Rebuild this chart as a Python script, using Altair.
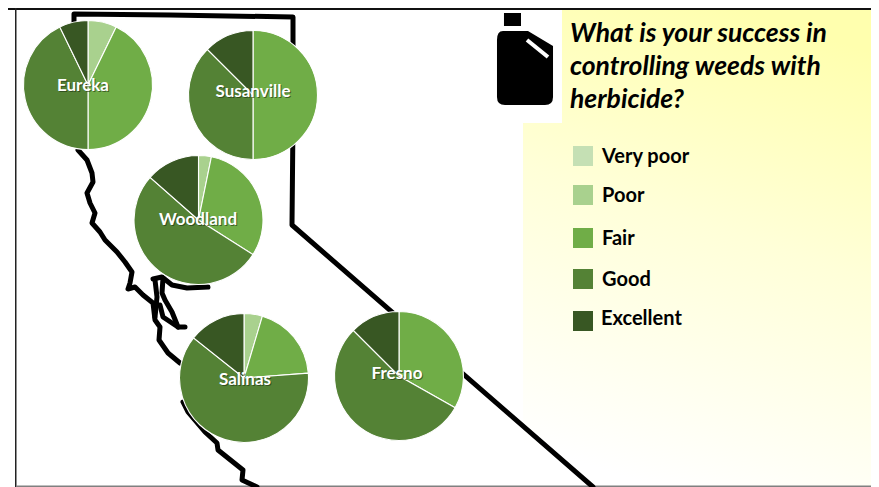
import altair as alt
import pandas as pd

# ---- data -----
categories = ["Very poor", "Poor", "Fair", "Good", "Excellent"]
colors = ["#C5E0B4", "#A9D18E", "#70AD47", "#548235", "#385723"]
cities = ["Eureka", "Susanville", "Woodland", "Salinas", "Fresno"]
city_x = [88, 253, 198.5, 244, 399]
city_y = [85, 95, 220, 378, 376]
label_x = [83, 253, 198, 245, 397]
label_y = [86, 92, 220, 380, 374]
eureka = [0, 7.2, 42.8, 42.8, 7.2]
susanville = [0, 0, 50, 37.5, 12.5]
woodland = [0, 3.2, 30.8, 52.5, 13.5]
salinas = [0, 4.6, 19.2, 61.9, 14.3]
fresno = [0, 0, 33.2, 54.3, 12.5]
series = [eureka, susanville, woodland, salinas, fresno]

legend_y = [156, 195, 238, 279, 321]
legend_text_y = [157, 196, 239, 280, 319]
legend_label_x = [602, 602, 602, 602, 601]
title_lines = ["What is your success in", "controlling weeds with", "herbicide?"]
title_y = [34, 67, 100]

border_x = [74, 74, 170, 293, 293, 292, 593]
border_y = [22, 14, 15, 17, 120, 225, 487]
coast_n_x = [78, 87, 92, 93, 87, 90, 95, 92, 100, 105, 117, 125, 132, 130, 128, 135, 143, 153, 155, 160, 159, 168, 180]
coast_n_y = [150, 160, 173, 182, 193, 203, 213, 223, 232, 240, 252, 262, 272, 283, 289, 287, 295, 303, 320, 327, 340, 353, 363]
coast_s_x = [183, 188, 205, 217, 218, 233, 243, 242, 257]
coast_s_y = [402, 412, 432, 443, 450, 462, 470, 480, 487]
bay_a_x = [153, 162, 172, 187, 208]
bay_a_y = [279, 277, 285, 288, 287]
bay_b_x = [163, 162, 165, 172, 178, 185]
bay_b_y = [278, 293, 300, 312, 327, 327]
bay_c_x = [160, 163, 178]
bay_c_y = [305, 317, 327]
bay_d_x = [155, 157, 155]
bay_d_y = [280, 297, 317]

bottle_shape = ("M-0.478,-0.609 L0.065,-0.609 L0.609,-0.283 L0.609,0.826 Q0.609,1 0.435,1 "
                "L-0.435,1 Q-0.609,1 -0.609,0.826 L-0.609,-0.413 Q-0.609,-0.609 -0.478,-0.609 Z "
                "M-0.457,-1 L-0.087,-1 L-0.087,-0.717 L-0.457,-0.717 Z")

# ---- scales -----
X = alt.Scale(domain=[8, 871], range=[0, 863], nice=False, zero=False)
Y = alt.Scale(domain=[8, 487], range=[0, 479], nice=False, zero=False)
def xe(f="x"): return alt.X(f"{f}:Q", scale=X, axis=None)
def ye(f="y"): return alt.Y(f"{f}:Q", scale=Y, axis=None)
color_scale = alt.Scale(domain=categories, range=colors)

pies = pd.DataFrame([
    {"city": c, "x": px, "y": py, "cat": cat, "order": i, "value": v}
    for c, px, py, vals in zip(cities, city_x, city_y, series)
    for i, (cat, v) in enumerate(zip(categories, vals)) if v > 0
])
labels = pd.DataFrame({"city": cities, "x": label_x, "y": label_y})
labels["sx"] = labels.x + 1
labels["sy"] = labels.y + 1
legend = pd.DataFrame({"cat": categories, "y": legend_y, "ty": legend_text_y, "lx": legend_label_x, "sx": [583] * 5})
title = pd.DataFrame({"t": title_lines, "y": title_y, "x": [570] * 3})

def box(x, x2, y, y2):
    return pd.DataFrame({"x": [x], "x2": [x2], "y": [y], "y2": [y2]})

def rect(d, **kw):
    return alt.Chart(d).mark_rect(**kw).encode(x=xe(), x2="x2:Q", y=ye(), y2="y2:Q")

def path_line(xs, ys, width=5):
    d = pd.DataFrame({"x": xs, "y": ys, "i": range(len(xs))})
    return alt.Chart(d).mark_line(color="black", strokeWidth=width, strokeJoin="round", strokeCap="round").encode(
        x=xe(), y=ye(), order="i:Q")

gradient = {"gradient": "linear", "x1": 0.62, "y1": 0, "x2": 0.38, "y2": 1,
            "stops": [{"offset": 0, "color": "#FFFFAE"},
                      {"offset": 0.45, "color": "#FFFFD8"},
                      {"offset": 1, "color": "#FFFFFF"}]}

bg = rect(box(8, 871, 8, 487), fill="white")
yellow = rect(box(523, 871, 8, 487), fill=gradient)
white_box = rect(box(480, 562, 8, 123), fill="white")
frame_top = rect(box(8, 871, 8, 10), fill="#111111")
frame_left = rect(box(15, 16.5, 8, 487), fill="#222222")
frame_bot = rect(box(16, 871, 485.5, 487), fill="#808080")

lines = [path_line(border_x, border_y), path_line(coast_n_x, coast_n_y), path_line(coast_s_x, coast_s_y),
         path_line(bay_a_x, bay_a_y), path_line(bay_b_x, bay_b_y), path_line(bay_c_x, bay_c_y),
         path_line(bay_d_x, bay_d_y)]

arcs = alt.Chart(pies).transform_stack(
    stack="value", groupby=["city"], sort=[alt.SortField("order")], as_=["t0", "t1"]
).mark_arc(radius=64.5, stroke="white", strokeWidth=1.1).encode(
    x=xe(), y=ye(),
    theta=alt.Theta("t0:Q", scale=alt.Scale(domain=[0, 100], range=[0, 6.28318])),
    theta2="t1:Q",
    color=alt.Color("cat:N", scale=color_scale, legend=None),
)

font = "Lato"
shadow = alt.Chart(labels).mark_text(font=font, fontWeight="bold", fontSize=17, color="#1d3010", opacity=0.6).encode(
    x=xe("sx"), y=ye("sy"), text="city:N")
text = alt.Chart(labels).mark_text(font=font, fontWeight="bold", fontSize=17, color="white").encode(
    x=xe(), y=ye(), text="city:N")

bottle = alt.Chart(pd.DataFrame({"x": [525], "y": [59]})).mark_point(
    shape=bottle_shape, size=8464, filled=True, color="black", opacity=1, strokeWidth=0
).encode(x=xe(), y=ye())
stripe = alt.Chart(pd.DataFrame({"x": [527], "x2": [548], "y": [40], "y2": [57]})).mark_rule(
    color="white", strokeWidth=4).encode(x=xe(), x2="x2:Q", y=ye(), y2="y2:Q")

title_text = alt.Chart(title).mark_text(font=font, fontWeight="bold", fontStyle="italic", fontSize=26.5,
                                        color="black", align="left").encode(x=xe(), y=ye(), text="t:N")
swatches = alt.Chart(legend).mark_square(size=400, opacity=1).encode(
    x=xe("sx"), y=ye(), color=alt.Color("cat:N", scale=color_scale, legend=None))
legend_text = alt.Chart(legend).mark_text(font=font, fontWeight="bold", fontSize=20, color="black", align="left").encode(
    x=xe("lx"), y=ye("ty"), text="cat:N")

chart = alt.layer(
    bg, yellow, white_box, frame_top, frame_left, frame_bot, *lines, arcs, shadow, text,
    bottle, stripe, title_text, swatches, legend_text
).properties(width=863, height=479, padding=0, autosize=alt.AutoSizeParams(type="none")
).configure_view(stroke=None)

chart.save("out.html", embed_options={"renderer": "svg", "actions": False})
